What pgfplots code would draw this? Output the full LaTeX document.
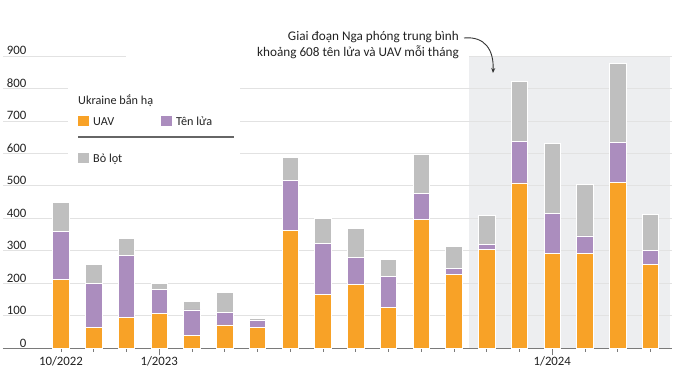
\documentclass[border=0pt]{standalone}
\usepackage{fontspec}
\setmainfont{Carlito}
\usepackage{pgfplots}
\pgfplotsset{compat=1.18}
\usetikzlibrary{arrows.meta}
\definecolor{cUAV}{HTML}{F8A227}
\definecolor{cTL}{HTML}{AB8DBE}
\definecolor{cBL}{HTML}{BFBFBF}
\definecolor{shadebg}{HTML}{EDEEF0}
\definecolor{gridc}{HTML}{E2E2E2}
\definecolor{axisc}{HTML}{7A7A7A}
\definecolor{textc}{HTML}{222222}
\pgfplotsset{base/.style={
  at={(3pt,28.7pt)}, anchor=south west,
  scale only axis, width=669pt, height=292.3pt,
  xmin=-1.771, xmax=18.656, ymin=0, ymax=900}}
\begin{document}
\begin{tikzpicture}[x=1pt,y=1pt]
\path[use as bounding box] (0,0) rectangle (680,377);
\begin{axis}[base, hide axis]
\fill[fill=shadebg] (axis cs:12.46,0) rectangle (axis cs:18.6,900);
\end{axis}
\begin{axis}[base,
  ybar stacked, bar width=16.5pt, bar shift=0pt,
  axis x line*=bottom, axis y line*=left,
  y axis line style={draw=none},
  x axis line style={draw=axisc, line width=1pt},
  ytick={0,100,...,900},
  ymajorgrids, grid style={draw=gridc, line width=0.9pt},
  ytick style={draw=none},
  yticklabel style={anchor=south east, xshift=28pt, yshift=0pt, inner sep=1pt, font=\fontsize{12.8}{13}\selectfont, text=textc},
  xtick={0,...,18},
  xticklabels={10/2022,,,1/2023,,,,,,,,,,,,1/2024,,,},
  tick align=outside, major tick length=3.5pt,
  xtick style={draw=axisc, line width=0.8pt},
  extra x ticks={3,15}, extra x tick labels={},
  extra x tick style={major tick length=7pt, grid=none},
  xticklabel style={font=\fontsize{12.8}{13}\selectfont, text=textc, yshift=-1pt},
  /pgf/number format/assume math mode=true,
  every axis plot/.append style={draw=white, line width=0.8pt},
]
% UAV
\addplot[fill=cUAV] coordinates {
(0,211) (1,64) (2,94) (3,107) (4,40) (5,72) (6,64) (7,362) (8,165) (9,196)
(10,125) (11,397) (12,227) (13,304) (14,509) (15,291) (16,291) (17,512) (18,258)};
% Ten lua
\addplot[fill=cTL] coordinates {
(0,148) (1,136) (2,191) (3,73) (4,78) (5,38) (6,21) (7,154) (8,158) (9,83)
(10,95) (11,79) (12,18) (13,15) (14,129) (15,125) (16,55) (17,123) (18,44)};
% Bo lot
\addplot[fill=cBL] coordinates {
(0,91) (1,57) (2,53) (3,21) (4,26) (5,61) (6,7) (7,72) (8,76) (9,90)
(10,54) (11,122) (12,68) (13,91) (14,185) (15,216) (16,158) (17,243) (18,111)};
\end{axis}
% gap in the 900 gridline
\fill[white] (126,377-58) rectangle (469,377-54);
% legend
\fill[white] (68,377-78) rectangle (240,377-172);
\node[anchor=base west, inner sep=0, font=\fontsize{12.2}{13}\selectfont, text=textc] at (78,377-105) {Ukraine bắn hạ};
\fill[cUAV] (78,377-116) rectangle (89,377-126);
\node[anchor=base west, inner sep=0, font=\fontsize{12.2}{13}\selectfont, text=textc] at (93,377-125.5) {UAV};
\fill[cTL] (161,377-116) rectangle (172,377-126);
\node[anchor=base west, inner sep=0, font=\fontsize{12.2}{13}\selectfont, text=textc] at (176,377-125.5) {Tên lửa};
\draw[draw=black!60, line width=1.5pt] (78,377-137) -- (233.5,377-137);
\fill[cBL] (78,377-153) rectangle (89,377-163);
\node[anchor=base west, inner sep=0, font=\fontsize{12.2}{13}\selectfont, text=textc] at (93,377-163) {Bỏ lọt};
% annotation
\node[anchor=base east, inner sep=0, font=\fontsize{13.2}{14}\selectfont, text=textc] at (459,377-40.7) {Giai đoạn Nga phóng trung bình};
\node[anchor=base east, inner sep=0, font=\fontsize{13.2}{14}\selectfont, text=textc] at (459,377-56.7) {khoảng 608 tên lửa và UAV mỗi tháng};
\draw[-{Stealth[length=5pt,width=4pt]}, draw=black!80, line width=0.9pt] (464,377-38) .. controls (485,377-36) and (494,377-50) .. (493,377-73);
\end{tikzpicture}
\end{document}
